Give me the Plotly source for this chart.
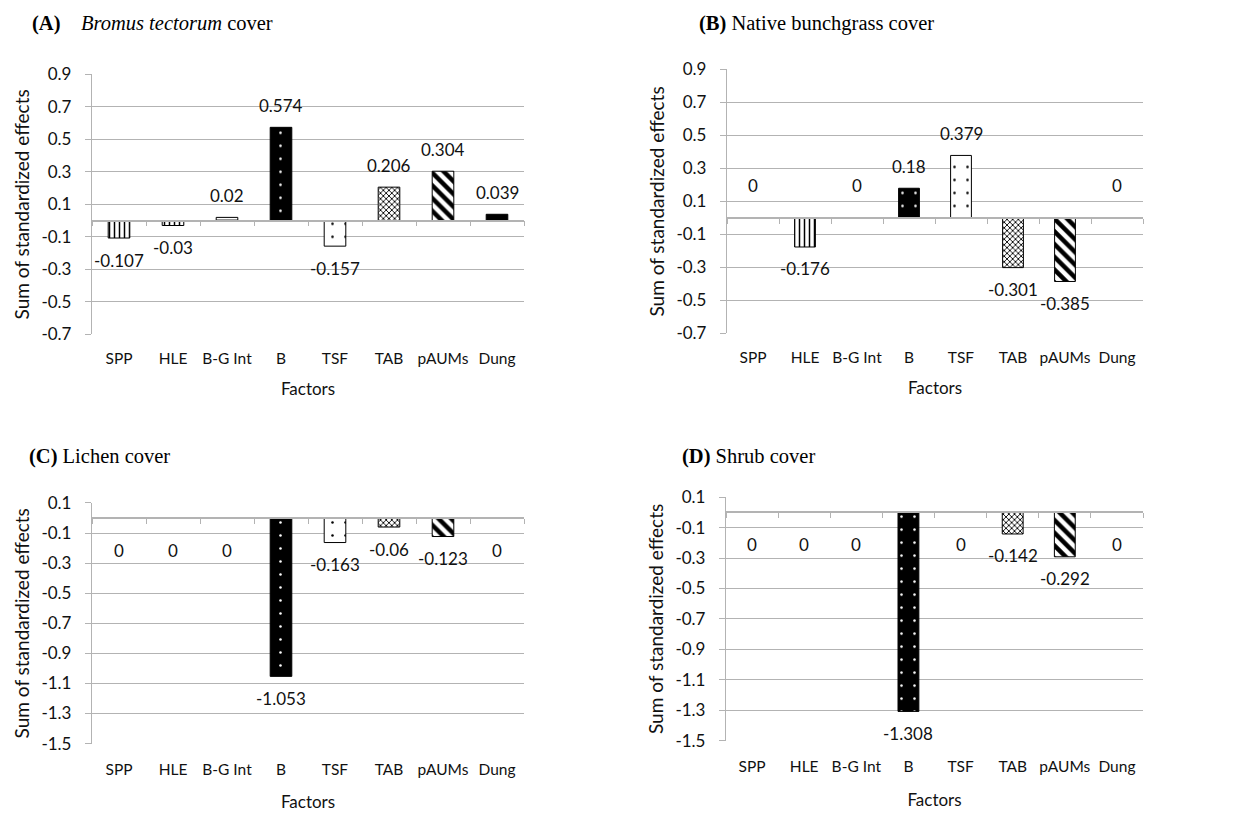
import plotly.graph_objects as go

# ---------------- data ----------------
factors = ["SPP", "HLE", "B-G Int", "B", "TSF", "TAB", "pAUMs", "Dung"]
bromus_cover = [-0.107, -0.03, 0.02, 0.574, -0.157, 0.206, 0.304, 0.039]
bunchgrass_cover = [0, -0.176, 0, 0.18, 0.379, -0.301, -0.385, 0]
lichen_cover = [0, 0, 0, -1.053, -0.163, -0.06, -0.123, 0]
shrub_cover = [0, 0, 0, -1.308, 0, -0.142, -0.292, 0]

top_tickvals = [0.9, 0.7, 0.5, 0.3, 0.1, -0.1, -0.3, -0.5, -0.7]
top_ticktext = ["0.9", "0.7", "0.5", "0.3", "0.1", "-0.1", "-0.3", "-0.5", "-0.7"]
bot_tickvals = [0.1, -0.1, -0.3, -0.5, -0.7, -0.9, -1.1, -1.3, -1.5]
bot_ticktext = ["0.1", "-0.1", "-0.3", "-0.5", "-0.7", "-0.9", "-1.1", "-1.3", "-1.5"]

titles = [
    "<b>(A)</b>&nbsp;&nbsp;&nbsp; <i>Bromus tectorum</i> cover",
    "<b>(B)</b> Native bunchgrass cover",
    "<b>(C)</b> Lichen cover",
    "<b>(D)</b> Shrub cover",
]

# ---------------- styles ----------------
W, H = 1245, 814
TXT = "#111111"
GRID = "#b3b3b3"
SANS = "Lato"
SERIF = "Liberation Serif"

# per-factor fill styles
fill_styles = {
    "SPP":     dict(shape="|", fg="black", bg="white", size=5, solidity=0.3),
    "HLE":     dict(shape="|", fg="black", bg="white", size=5, solidity=0.3),
    "B-G Int": dict(shape="-", fg="black", bg="white", size=4, solidity=0.3),
    "B":       dict(shape=".", fg="white", bg="black", size=13, solidity=0.03),
    "TSF":     dict(shape=".", fg="black", bg="white", size=13, solidity=0.03),
    "TAB":     dict(shape="x", fg="black", bg="white", size=4, solidity=0.4),
    "pAUMs":   dict(shape="\\", fg="black", bg="white", size=9, solidity=0.5),
    "Dung":    dict(shape="", fg="black", bg="black", size=8, solidity=0.3),
}

# panel geometry in pixels: (x0, x1, ytop, ybottom)
panels = [
    dict(data=bromus_cover, px=(92, 524, 65, 332), rng=(-0.7, 0.9), tv=top_tickvals, tt=top_ticktext,
         title_xy=(30, 13), zero_dir=1, tick_standoff=13, title_standoff=17),
    dict(data=bunchgrass_cover, px=(727, 1143, 60, 331), rng=(-0.7, 0.9), tv=top_tickvals, tt=top_ticktext,
         title_xy=(697, 13), zero_dir=1, tick_standoff=13, title_standoff=17),
    dict(data=lichen_cover, px=(92, 524, 505, 752), rng=(-1.5, 0.1), tv=bot_tickvals, tt=bot_ticktext,
         title_xy=(27, 457), zero_dir=-1, tick_standoff=15, title_standoff=19),
    dict(data=shrub_cover, px=(726, 1143, 499, 749), rng=(-1.5, 0.1), tv=bot_tickvals, tt=bot_ticktext,
         title_xy=(680, 457), zero_dir=-1, tick_standoff=15, title_standoff=19),
]

fig = go.Figure()
annotations = []
layout = {}

for i, p in enumerate(panels, start=1):
    x0, x1, yt, yb = p["px"]
    dx = [x0 / W, x1 / W]
    dy = [1 - yb / H, 1 - yt / H]
    lo, hi = p["rng"]
    eps = 1e-4
    xa = "x" if i == 1 else f"x{i}"
    ya = "y" if i == 1 else f"y{i}"
    ov = f"x{i + 4}"

    for f, v in zip(factors, p["data"]):
        st = fill_styles[f]
        fig.add_trace(go.Bar(
            x=[f], y=[v], xaxis=xa, yaxis=ya, width=0.4,
            marker=dict(
                color=st["bg"],
                line=dict(color="black", width=1),
                pattern=dict(shape=st["shape"], fgcolor=st["fg"], bgcolor=st["bg"],
                             size=st["size"], solidity=st["solidity"], fillmode="replace"),
            ),
            showlegend=False, hoverinfo="x+y",
        ))
    # invisible trace for the zero-crossing category axis
    fig.add_trace(go.Scatter(x=factors, y=[None] * len(factors), xaxis=ov, yaxis=ya,
                             mode="markers", showlegend=False, hoverinfo="skip"))

    zero_frac = dy[0] + (0 - lo) / (hi - lo) * (dy[1] - dy[0])

    layout["xaxis" if i == 1 else f"xaxis{i}"] = dict(
        domain=dx, anchor=ya, type="category", categoryorder="array", categoryarray=factors,
        range=[-0.5, len(factors) - 0.5], showline=False, showgrid=False, zeroline=False,
        ticks="", ticklabelstandoff=p["tick_standoff"],
        tickfont=dict(family=SANS, size=15.5, color=TXT),
        title=dict(text="Factors", font=dict(family=SANS, size=17, color=TXT),
                   standoff=p["title_standoff"]),
    )
    layout[f"xaxis{i + 4}"] = dict(
        overlaying=xa, anchor="free", position=zero_frac, domain=dx,
        type="category", categoryorder="array", categoryarray=factors,
        range=[-0.5, len(factors) - 0.5], tickson="boundaries",
        ticks="outside", ticklen=5, tickcolor=GRID, tickwidth=1.3,
        showticklabels=False, showline=True, linecolor=GRID, linewidth=1.5,
        showgrid=False, zeroline=False, layer="above traces",
    )
    layout["yaxis" if i == 1 else f"yaxis{i}"] = dict(
        domain=dy, anchor=xa, range=[lo - eps, hi + eps],
        tickmode="array", tickvals=p["tv"], ticktext=p["tt"],
        showgrid=True, gridcolor=GRID, gridwidth=1.3,
        showline=True, linecolor=GRID, linewidth=1.3,
        ticks="outside", ticklen=6, tickcolor=GRID, ticklabelstandoff=10,
        zeroline=False,
        tickfont=dict(family=SANS, size=17, color=TXT),
        title=dict(text="Sum of standardized effects", font=dict(family=SANS, size=19, color=TXT),
                   standoff=6),
    )

    # value labels
    for f, v in zip(factors, p["data"]):
        if v > 0:
            shift = 22
        elif v < 0:
            shift = -22
        else:
            shift = 32 * p["zero_dir"]
        annotations.append(dict(
            x=f, y=v, xref=xa, yref=ya, text=f"{v:g}", showarrow=False,
            yshift=shift, font=dict(family=SANS, size=17, color=TXT),
        ))

    tx, ty = p["title_xy"]
    annotations.append(dict(
        x=tx / W, y=1 - ty / H, xref="paper", yref="paper", xanchor="left", yanchor="middle",
        text=titles[i - 1], showarrow=False, font=dict(family=SERIF, size=20.5, color="black"),
    ))

fig.update_layout(
    width=W, height=H, margin=dict(l=0, r=0, t=0, b=0),
    paper_bgcolor="white", plot_bgcolor="white",
    barmode="overlay", annotations=annotations, **layout,
)

fig.write_html("out.html", config={"displayModeBar": False},
               post_script="document.body.style.margin='0px';")
